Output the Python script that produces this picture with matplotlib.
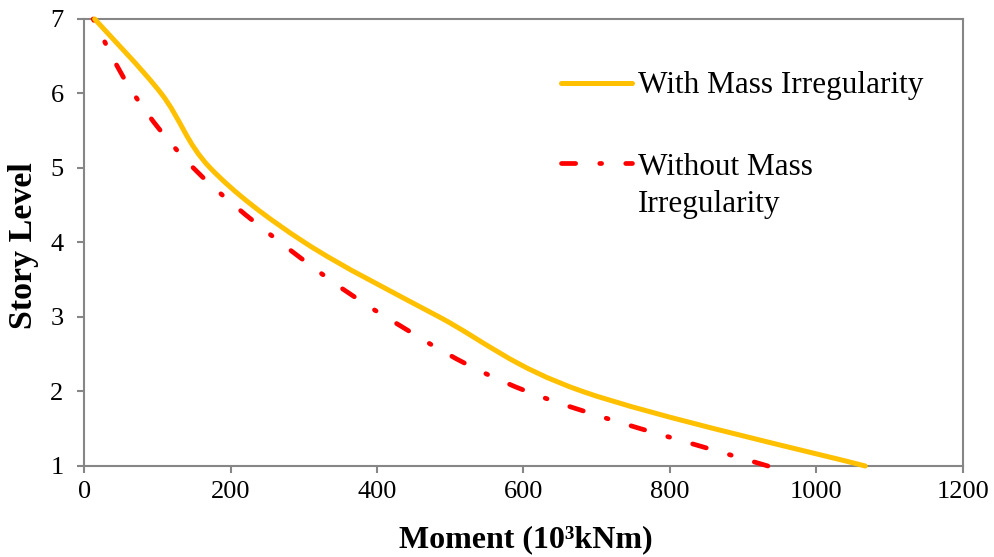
import matplotlib
matplotlib.use("Agg")
import matplotlib.pyplot as plt
from matplotlib.path import Path
from matplotlib.patches import PathPatch
from matplotlib.lines import Line2D

# ---------------- data ----------------
story_levels = [1, 2, 3, 4, 5, 6, 7]
moment_with = [1067, 681, 485, 301, 172, 105, 14]
moment_without = [934, 605, 412, 268, 149, 67, 12]
label_with = "With Mass Irregularity"
label_without = ["Without Mass", "Irregularity"]
x_ticks = [0, 200, 400, 600, 800, 1000, 1200]
y_ticks = [1, 2, 3, 4, 5, 6, 7]
x_label = "Moment (10³kNm)"
y_label = "Story Level"

FONT = "Liberation Serif"
plt.rcParams["font.family"] = [FONT, "DejaVu Serif"]

YELLOW = "#FFC000"
RED = "#FF0000"
GRAY = "#868686"
DASHDOT = (0, (3.0, 5.1, 0.4, 5.1))


def smooth_path(xs, ys):
    """Smoothed (Excel-like) Bezier path through the data points."""
    pts = list(zip(xs, ys))
    n = len(pts)
    verts = [pts[0]]
    codes = [Path.MOVETO]
    for i in range(n - 1):
        p0 = pts[i - 1] if i > 0 else pts[i]
        p1 = pts[i]
        p2 = pts[i + 1]
        p3 = pts[i + 2] if i + 2 < n else pts[i + 1]
        c1 = (p1[0] + (p2[0] - p0[0]) / 6.0, p1[1] + (p2[1] - p0[1]) / 6.0)
        c2 = (p2[0] - (p3[0] - p1[0]) / 6.0, p2[1] - (p3[1] - p1[1]) / 6.0)
        verts += [c1, c2, p2]
        codes += [Path.CURVE4] * 3
    return Path(verts, codes)


fig = plt.figure(figsize=(9.95, 5.57), dpi=100)
ax = fig.add_axes([0.0848, 0.1634, 0.8826, 0.8025])

ax.set_xlim(0, 1200)
ax.set_ylim(1, 7)

p_with = PathPatch(smooth_path(moment_with, story_levels), fill=False,
                   edgecolor=YELLOW, linewidth=3.6, capstyle="round",
                   joinstyle="round", clip_on=False, zorder=5)
p_without = PathPatch(smooth_path(moment_without, story_levels), fill=False,
                      edgecolor=RED, linewidth=3.4, linestyle=DASHDOT,
                      capstyle="round", joinstyle="round", clip_on=False,
                      zorder=4)
ax.add_patch(p_without)
ax.add_patch(p_with)

# axes styling
for s in ax.spines.values():
    s.set_color(GRAY)
    s.set_linewidth(1.5)
ax.set_xticks(x_ticks)
ax.set_yticks(y_ticks)
ax.set_xticklabels([str(v) for v in x_ticks])
ax.set_yticklabels([str(v) for v in y_ticks])
ax.tick_params(axis="x", direction="out", length=5, width=1.5, color=GRAY,
               labelsize=19, pad=6, top=False)
ax.tick_params(axis="y", direction="out", length=5, width=1.5, color=GRAY,
               labelsize=19, pad=10, right=False)

ax.set_xlabel(x_label, fontsize=23, fontweight="bold")
ax.xaxis.label.set_verticalalignment("baseline")
ax.xaxis.set_label_coords(0.5027, -0.181)
ax.set_ylabel(y_label, fontsize=24.5, fontweight="bold")
ax.yaxis.label.set_verticalalignment("center")
ax.yaxis.set_label_coords(-0.0688, 0.494)

# manual legend (inside plot, upper right)
ax.add_line(Line2D([0.5424, 0.6232], [0.8562, 0.8562], transform=ax.transAxes,
                   color=YELLOW, linewidth=3.6, solid_capstyle="round"))
ax.add_line(Line2D([0.5424, 0.6232], [0.6779, 0.6779], transform=ax.transAxes,
                   color=RED, linewidth=3.4, linestyle=DASHDOT,
                   dash_capstyle="round"))
ax.text(0.6304, 0.8338, label_with, transform=ax.transAxes, fontsize=22.5,
        va="baseline", ha="left")
ax.text(0.6304, 0.651, label_without[0], transform=ax.transAxes, fontsize=22.5,
        va="baseline", ha="left")
ax.text(0.6304, 0.651 - 37 / 447, label_without[1], transform=ax.transAxes,
        fontsize=22.5, va="baseline", ha="left")

fig.savefig("out.png", dpi=100)
